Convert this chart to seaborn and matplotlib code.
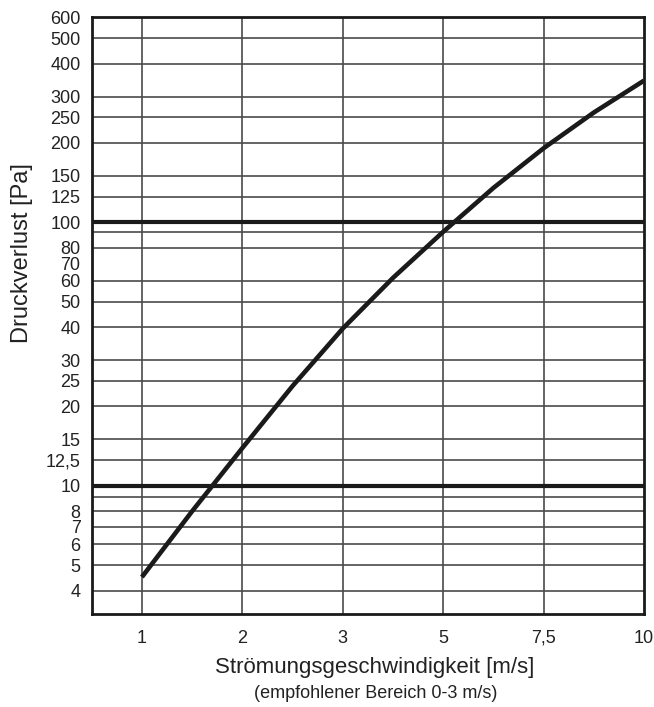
import numpy as np
import pandas as pd
import matplotlib
matplotlib.use("Agg")
import matplotlib.pyplot as plt
from matplotlib.ticker import NullLocator
import seaborn as sns

# ---- data ----
velocity = [1.0, 1.5, 2.0, 2.5, 3.0, 4.0, 5.0, 6.25, 7.5, 8.75, 10.0]
pressure = [4.5, 8.0, 13.9, 23.9, 39.5, 61.5, 92.0, 135.0, 191.0, 261.0, 345.0]

x_ticks = [1, 2, 3, 5, 7.5, 10]
x_tick_labels = ["1", "2", "3", "5", "7,5", "10"]

y_ticks = [4, 5, 6, 7, 8, 10, 12.5, 15, 20, 25, 30, 40, 50, 60, 70, 80,
           100, 125, 150, 200, 250, 300, 400, 500, 600]
y_tick_labels = ["4", "5", "6", "7", "8", "10", "12,5", "15", "20", "25", "30",
                 "40", "50", "60", "70", "80", "100", "125", "150", "200",
                 "250", "300", "400", "500", "600"]
y_grid = [4, 5, 6, 7, 8, 9.1, 12.5, 15, 20, 25, 30, 40, 50, 60, 80, 92,
          125, 150, 200, 250, 300, 400, 500]
y_bold = [10, 100]

x_label = "Strömungsgeschwindigkeit [m/s]"
x_sublabel = "(empfohlener Bereich 0-3 m/s)"
y_label = "Druckverlust [Pa]"

df = pd.DataFrame({"v": velocity, "p": pressure})

sns.set_style("white")
plt.rcParams["font.family"] = ["Liberation Sans", "DejaVu Sans"]

W, H = 654, 707
fig = plt.figure(figsize=(W / 100, H / 100), dpi=100)
L, R, T, B = 91.7, 644.0, 17.3, 614.3
ax = fig.add_axes([L / W, 1 - B / H, (R - L) / W, (B - T) / H])

ink = "#1a1a1a"
grid_c = "#4a4a4a"
text_c = "#222222"

sns.lineplot(data=df, x="v", y="p", ax=ax, color=ink, lw=3.3,
             sort=False, estimator=None, zorder=5,
             solid_capstyle="butt", solid_joinstyle="round")

# equally spaced velocity axis
knots_v = [0.5] + x_ticks
knots_p = [-0.5, 0, 1, 2, 3, 4, 5]


def fwd(v):
    return np.interp(v, knots_v, knots_p)


def inv(p):
    return np.interp(p, knots_p, knots_v)


ax.set_xscale("function", functions=(fwd, inv))
ax.set_yscale("log")
ax.set_xlim(0.5, 10)
ax.set_ylim(3.25, 600)

ax.set_xticks(x_ticks, labels=x_tick_labels)
ax.set_yticks(y_ticks, labels=y_tick_labels)
ax.yaxis.set_minor_locator(NullLocator())
ax.xaxis.set_minor_locator(NullLocator())
ax.tick_params(length=0, labelsize=13, labelcolor=text_c)
ax.tick_params(axis="y", pad=8)
ax.tick_params(axis="x", pad=11)
ax.grid(False)

for v in y_grid:
    ax.axhline(v, color=grid_c, lw=1.2, zorder=1)
for v in x_ticks[:-1]:
    ax.axvline(v, color=grid_c, lw=1.2, zorder=1)
for v in y_bold:
    ax.axhline(v, color=ink, lw=3.0, zorder=2)

for s in ax.spines.values():
    s.set_visible(True)
    s.set_linewidth(2.0)
    s.set_color(ink)
    s.set_zorder(6)

ax.set_xlabel("")
ax.set_ylabel("")

fig.text(375 / W, 1 - 667 / H, x_label, ha="center", va="center",
         fontsize=16, color=text_c)
fig.text(376 / W, 1 - 693 / H, x_sublabel, ha="center", va="center",
         fontsize=13, color=text_c)
fig.text(22 / W, 1 - 253 / H, y_label, ha="center", va="center",
         rotation=90, fontsize=17, color=text_c)

fig.savefig("out.png", dpi=100)
